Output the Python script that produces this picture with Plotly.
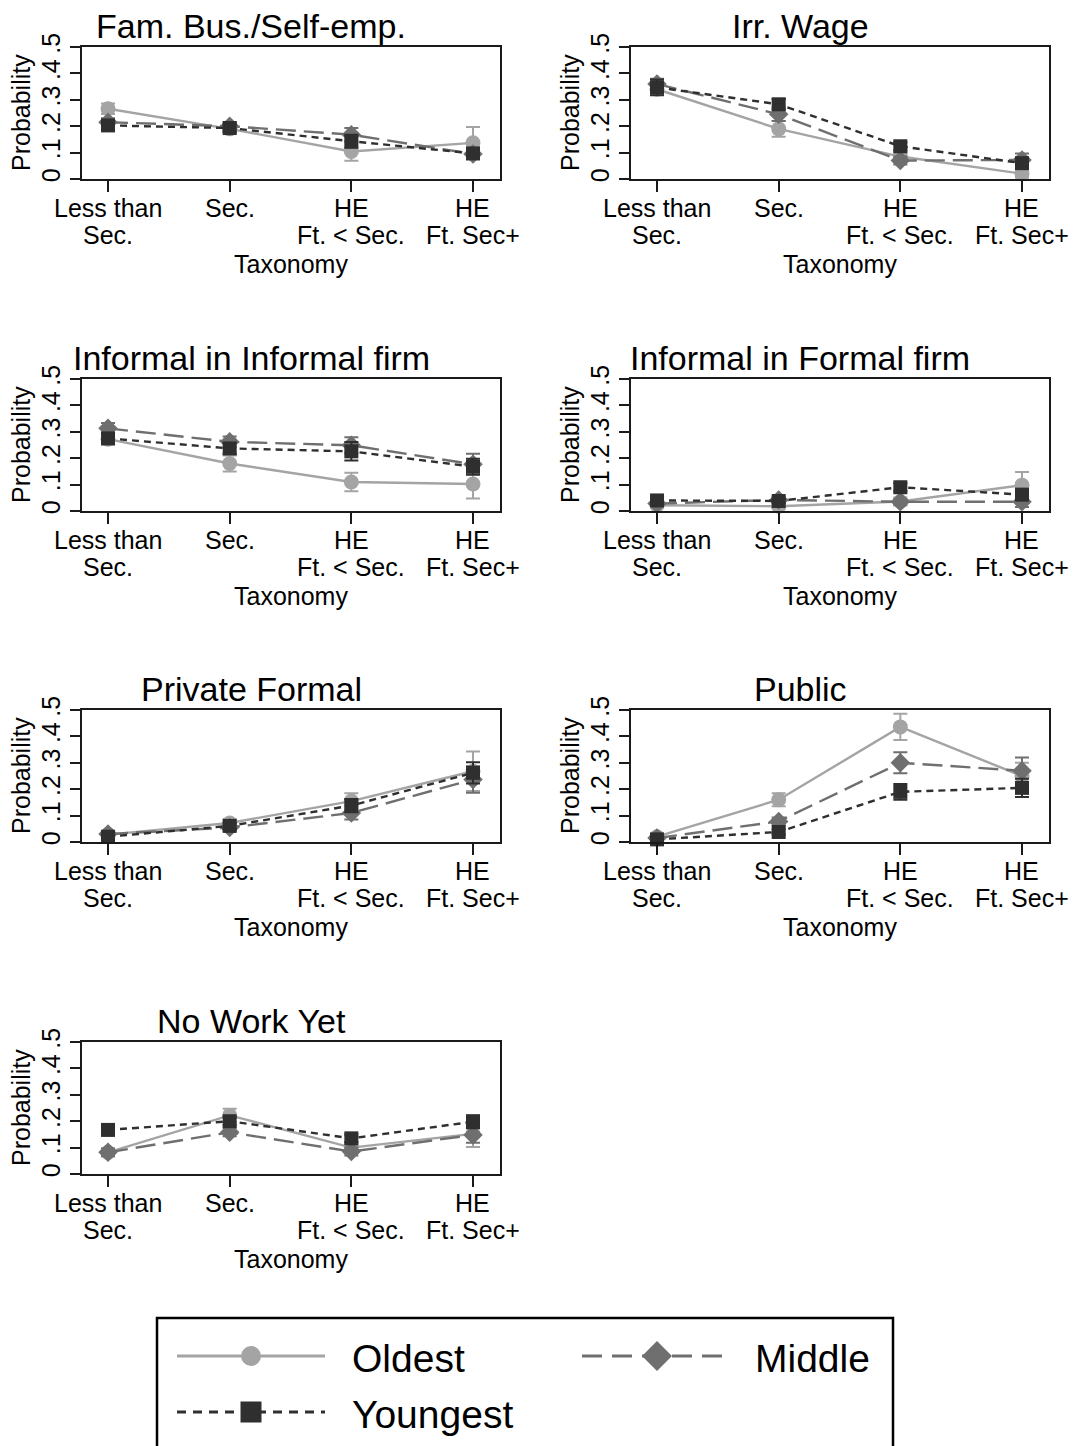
import plotly.graph_objects as go

W, H = 1076, 1446

# ---- data -----------------------------------------------------------------
panel_titles = ["Fam. Bus./Self-emp.", "Irr. Wage", "Informal in Informal firm",
                "Informal in Formal firm", "Private Formal", "Public", "No Work Yet"]
categories = [1, 2, 3, 4]
tick_line1 = ["Less than", "Sec.", "HE", "HE"]
tick_line2 = ["Sec.", "", "Ft. < Sec.", "Ft. Sec+"]
y_tickvals = [0, 0.1, 0.2, 0.3, 0.4, 0.5]
y_ticktext = ["0", ".1", ".2", ".3", ".4", ".5"]
series_names = ["Oldest", "Middle", "Youngest"]

# predicted probabilities, one row per panel (same order as panel_titles)
oldest = [
    [0.266, 0.190, 0.104, 0.137],
    [0.340, 0.190, 0.085, 0.020],
    [0.272, 0.180, 0.110, 0.102],
    [0.022, 0.018, 0.036, 0.098],
    [0.028, 0.072, 0.155, 0.268],
    [0.020, 0.160, 0.436, 0.250],
    [0.082, 0.222, 0.100, 0.152],
]
middle = [
    [0.215, 0.200, 0.168, 0.095],
    [0.360, 0.245, 0.070, 0.072],
    [0.313, 0.262, 0.249, 0.177],
    [0.028, 0.042, 0.035, 0.035],
    [0.030, 0.055, 0.110, 0.237],
    [0.015, 0.078, 0.300, 0.270],
    [0.082, 0.158, 0.085, 0.148],
]
youngest = [
    [0.203, 0.193, 0.143, 0.097],
    [0.347, 0.283, 0.124, 0.060],
    [0.275, 0.237, 0.226, 0.168],
    [0.040, 0.038, 0.090, 0.062],
    [0.020, 0.061, 0.138, 0.262],
    [0.010, 0.038, 0.190, 0.205],
    [0.167, 0.200, 0.135, 0.198],
]

# half-widths of the confidence intervals
oldest_ci = [
    [0.020, 0.015, 0.035, 0.060],
    [0.020, 0.030, 0.015, 0.015],
    [0.020, 0.030, 0.035, 0.055],
    [0.008, 0.008, 0.015, 0.050],
    [0.010, 0.015, 0.030, 0.075],
    [0.010, 0.025, 0.050, 0.050],
    [0.015, 0.025, 0.020, 0.050],
]
middle_ci = [
    [0.015, 0.015, 0.025, 0.020],
    [0.020, 0.025, 0.015, 0.025],
    [0.020, 0.020, 0.030, 0.040],
    [0.010, 0.010, 0.010, 0.020],
    [0.010, 0.012, 0.025, 0.050],
    [0.008, 0.015, 0.040, 0.050],
    [0.015, 0.015, 0.015, 0.030],
]
youngest_ci = [
    [0.015, 0.015, 0.025, 0.020],
    [0.030, 0.020, 0.015, 0.020],
    [0.020, 0.020, 0.035, 0.030],
    [0.008, 0.008, 0.015, 0.015],
    [0.008, 0.012, 0.025, 0.040],
    [0.006, 0.010, 0.030, 0.035],
    [0.015, 0.015, 0.015, 0.025],
]

series_values = {"Oldest": oldest, "Middle": middle, "Youngest": youngest}
series_ci = {"Oldest": oldest_ci, "Middle": middle_ci, "Youngest": youngest_ci}

# ---- styling ----------------------------------------------------------------
FONT = "Liberation Sans, Arial, Helvetica, sans-serif"
styles = {
    "Oldest":   dict(color="#a4a4a4", dash="solid",    symbol="circle",  size=15),
    "Middle":   dict(color="#6f6f6f", dash="20px,8px", symbol="diamond", size=15),
    "Youngest": dict(color="#2f2f2f", dash="7px,5px",  symbol="square",  size=14),
}

col_left = [82, 631]
row_top = [47, 379, 710, 1042]
box_w, box_h = 418, 132


def px(x):
    return x / W


def py(y):
    return 1 - y / H


def axis_ids(k):
    s = "" if k == 1 else str(k)
    return "x" + s, "y" + s, "xaxis" + s, "yaxis" + s


fig = go.Figure()
annotations = []
layout_axes = {}

for i, title in enumerate(panel_titles):
    row, col = divmod(i, 2)
    xa, ya, xkey, ykey = axis_ids(i + 1)
    left, top = col_left[col], row_top[row]
    bottom = top + box_h

    for name in series_names:
        st = styles[name]
        fig.add_trace(go.Scatter(
            x=categories, y=series_values[name][i],
            mode="lines+markers",
            line=dict(color=st["color"], width=2.4, dash=st["dash"]),
            marker=dict(symbol=st["symbol"], size=st["size"], color=st["color"],
                        line=dict(width=0)),
            error_y=dict(type="data", array=series_ci[name][i], color=st["color"],
                         thickness=2, width=7),
            cliponaxis=False, showlegend=False, name=name,
            xaxis=xa, yaxis=ya,
        ))

    axis_common = dict(showline=True, mirror=True, linecolor="#1a1a1a", linewidth=2,
                       showgrid=False, zeroline=False, ticks="outside",
                       tickwidth=2, tickcolor="#1a1a1a", fixedrange=True,
                       automargin=False)
    layout_axes[xkey] = dict(
        domain=[px(left), px(left + box_w)], range=[0.786, 4.222],
        tickvals=categories, showticklabels=False, ticklen=11,
        anchor=ya, **axis_common)
    layout_axes[ykey] = dict(
        domain=[py(bottom), py(top)], range=[0, 0.5],
        tickvals=y_tickvals, ticktext=y_ticktext, tickangle=-90,
        tickfont=dict(family=FONT, size=25, color="black"), ticklen=10,
        anchor=xa, **axis_common)

    # panel title
    annotations.append(dict(text=title, xref="paper", yref="paper",
                            x=px(left + box_w / 2 - 40), y=py(top - 21),
                            xanchor="center", yanchor="middle", showarrow=False,
                            font=dict(family=FONT, size=34, color="black")))
    # y-axis title
    annotations.append(dict(text="Probability", xref="paper", yref="paper",
                            x=px(left - 61), y=py(top + box_h / 2), textangle=-90,
                            xanchor="center", yanchor="middle", showarrow=False,
                            font=dict(family=FONT, size=25, color="black")))
    # two-line category labels
    for c, l1, l2 in zip(categories, tick_line1, tick_line2):
        annotations.append(dict(text=l1, xref=xa, yref="paper", x=c, y=py(bottom + 29),
                                xanchor="center", yanchor="middle", showarrow=False,
                                font=dict(family=FONT, size=25, color="black")))
        if l2:
            annotations.append(dict(text=l2, xref=xa, yref="paper", x=c, y=py(bottom + 56),
                                    xanchor="center", yanchor="middle", showarrow=False,
                                    font=dict(family=FONT, size=25, color="black")))
    # x-axis title
    annotations.append(dict(text="Taxonomy", xref="paper", yref="paper",
                            x=px(left + box_w / 2), y=py(bottom + 85),
                            xanchor="center", yanchor="middle", showarrow=False,
                            font=dict(family=FONT, size=25, color="black")))

# ---- legend (drawn on a pixel-space overlay axis) -----------------------------
legend_keys = {
    "Oldest":   dict(x0=177, x1=325, y=1356, text_x=350, msize=20),
    "Middle":   dict(x0=582, x1=732, y=1356, text_x=753, msize=23),
    "Youngest": dict(x0=177, x1=325, y=1412, text_x=350, msize=21),
}
legend_dash = {"Oldest": "solid", "Middle": "20px,10px", "Youngest": "9px,7px"}
for name in series_names:
    st, lk = styles[name], legend_keys[name]
    mid = (lk["x0"] + lk["x1"]) / 2
    fig.add_trace(go.Scatter(
        x=[lk["x0"], lk["x1"]], y=[lk["y"], lk["y"]], mode="lines",
        line=dict(color=st["color"], width=3, dash=legend_dash[name]),
        showlegend=False, hoverinfo="skip", xaxis="x8", yaxis="y8", cliponaxis=False))
    fig.add_trace(go.Scatter(
        x=[mid], y=[lk["y"]], mode="markers",
        marker=dict(symbol=st["symbol"], size=lk["msize"], color=st["color"],
                    line=dict(width=0)),
        showlegend=False, hoverinfo="skip", xaxis="x8", yaxis="y8", cliponaxis=False))
    annotations.append(dict(text=name, xref="paper", yref="paper",
                            x=px(lk["text_x"]), y=py(lk["y"] + 2),
                            xanchor="left", yanchor="middle", showarrow=False,
                            font=dict(family=FONT, size=39, color="black")))

layout_axes["xaxis8"] = dict(domain=[0, 1], range=[0, W], visible=False, fixedrange=True,
                             anchor="y8", automargin=False)
layout_axes["yaxis8"] = dict(domain=[0, 1], range=[H, 0], visible=False, fixedrange=True,
                             anchor="x8", automargin=False)

fig.update_layout(
    template="none",
    width=W, height=H,
    margin=dict(l=0, r=0, t=0, b=0, pad=0, autoexpand=False),
    paper_bgcolor="white", plot_bgcolor="rgba(0,0,0,0)",
    font=dict(family=FONT, color="black"),
    annotations=annotations,
    shapes=[dict(type="rect", xref="paper", yref="paper",
                 x0=px(157), x1=px(893), y0=py(1470), y1=py(1318),
                 line=dict(color="black", width=2.5), fillcolor="rgba(0,0,0,0)")],
    **layout_axes,
)

fig.write_html("out.html")
